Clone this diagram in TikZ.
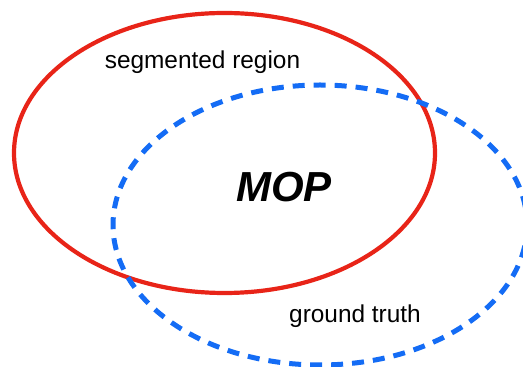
\documentclass[tikz,border=0pt]{standalone}
\usepackage{fontspec}
\setmainfont{Liberation Sans}
\usepackage{tikz}
\usetikzlibrary{positioning}
\definecolor{segred}{RGB}{232,36,24}
\definecolor{truthblue}{RGB}{20,108,245}

\begin{document}
\begin{tikzpicture}[x=0.5pt, y=-0.5pt]
    \useasboundingbox (0,0) rectangle (523,367);
    \clip (0,0) rectangle (523,367);
\draw[segred, line width=2.1pt](224.5,153) ellipse [x radius=210.5, y radius=140];
\draw[truthblue, line width=2.5pt, dash pattern=on 6pt off 4.5pt](320,225) ellipse [x radius=207, y radius=140];
\node (seg) at (202.5,69)[anchor=base]{\fontsize{12.2}{14}\selectfont segmented region};
\node (gt) at (355,322)[anchor=base]{\fontsize{12.2}{14}\selectfont ground truth};
\node (mop) at (284,202)[anchor=base]{\fontsize{21}{25}\selectfont\bfseries\itshape MOP};

\end{tikzpicture}
\end{document}
